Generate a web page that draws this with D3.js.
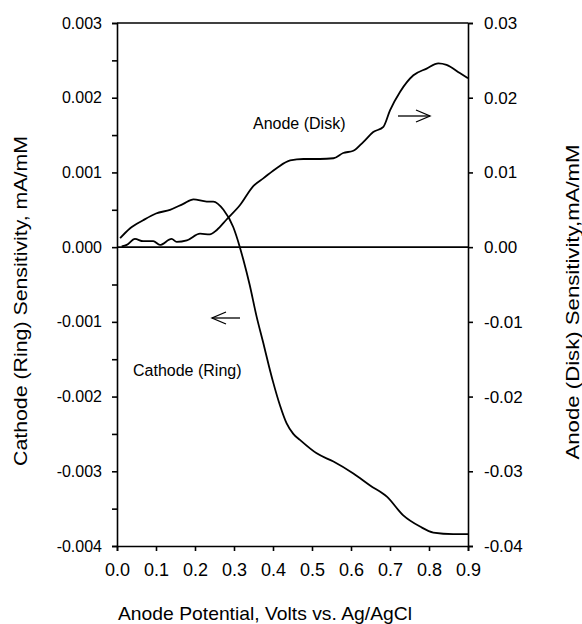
<!DOCTYPE html>
<html>
<head>
<meta charset="utf-8">
<script src="https://cdn.jsdelivr.net/npm/d3@7"></script>
<style>
  body { margin: 0; background: #fff; }
  text { font-family: "Liberation Sans", Arial, sans-serif; fill: #000; }
</style>
</head>
<body>
<svg width="582" height="624"></svg>
<script>
// cathode (ring) sensitivity, left axis, mA/mM
const ringV = [0.008, 0.033, 0.067, 0.10, 0.136, 0.17, 0.196, 0.23, 0.247, 0.273, 0.298, 0.315, 0.324, 0.34, 0.358, 0.375, 0.39, 0.40, 0.418, 0.435, 0.452, 0.469, 0.512, 0.555, 0.606, 0.649, 0.692, 0.734, 0.777, 0.811, 0.862, 0.9];
const ringS = [0.00012, 0.00025, 0.00036, 0.00045, 0.0005, 0.00058, 0.00064, 0.00061, 0.00061, 0.0005, 0.00027, 0.0, -0.00017, -0.0005, -0.00093, -0.00128, -0.0016, -0.0018, -0.00212, -0.00236, -0.0025, -0.00258, -0.00276, -0.00287, -0.00303, -0.00319, -0.00334, -0.00359, -0.00374, -0.00382, -0.00384, -0.00384];

// anode (disk) sensitivity, right axis, mA/mM
const diskV = [0.012, 0.025, 0.046, 0.067, 0.093, 0.11, 0.14, 0.153, 0.179, 0.213, 0.238, 0.256, 0.281, 0.315, 0.35, 0.375, 0.41, 0.444, 0.478, 0.52, 0.555, 0.58, 0.606, 0.632, 0.657, 0.683, 0.70, 0.726, 0.76, 0.794, 0.824, 0.845, 0.879, 0.9];
const diskS = [0.0001, 0.0003, 0.0011, 0.0008, 0.0008, 0.0003, 0.0011, 0.0007, 0.0009, 0.0018, 0.0017, 0.0023, 0.0037, 0.0056, 0.0082, 0.0092, 0.0106, 0.0116, 0.0118, 0.0118, 0.0119, 0.0126, 0.0129, 0.0141, 0.0154, 0.0161, 0.0183, 0.0208, 0.0230, 0.0239, 0.0246, 0.0244, 0.0233, 0.0226];

const xTicks = [0, 0.1, 0.2, 0.3, 0.4, 0.5, 0.6, 0.7, 0.8, 0.9];
const leftTicks = [-0.004, -0.003, -0.002, -0.001, 0, 0.001, 0.002, 0.003];
const leftMinor = [-0.0035, -0.0025, -0.0015, -0.0005, 0.0005, 0.0015, 0.0025];
const rightTicks = [-0.04, -0.03, -0.02, -0.01, 0, 0.01, 0.02, 0.03];

const svg = d3.select('svg');
const pLeft = 117, pRight = 468, pTop = 23, pBottom = 546;

const x = d3.scaleLinear().domain([0, 0.9]).range([pLeft, pRight]);
const yL = d3.scaleLinear().domain([-0.004, 0.003]).range([pBottom, pTop]);
const yR = d3.scaleLinear().domain([-0.04, 0.03]).range([pBottom, pTop]);

// plain hyphen for negatives, like the original
const fmt = p => d => d3.format(p)(d).replace('\u2212', '-');

// x axis
svg.append('g')
  .attr('transform', `translate(0,${pBottom})`)
  .call(d3.axisBottom(x).tickValues(xTicks).tickFormat(fmt('.1f')).tickSize(5).tickPadding(12))
  .call(g => g.selectAll('text').style('font-size', '18px'));

// left axis
svg.append('g')
  .attr('transform', `translate(${pLeft},0)`)
  .call(d3.axisLeft(yL).tickValues(leftMinor).tickFormat('').tickSize(5))
  .call(g => g.select('.domain').remove());
svg.append('g')
  .attr('transform', `translate(${pLeft},0)`)
  .call(d3.axisLeft(yL).tickValues(leftTicks).tickFormat(fmt('.3f')).tickSize(5).tickPadding(10))
  .call(g => g.selectAll('text').style('font-size', '16px'));

// right axis
svg.append('g')
  .attr('transform', `translate(${pRight},0)`)
  .call(d3.axisRight(yR).tickValues(rightTicks).tickFormat(fmt('.2f')).tickSize(5).tickPadding(11))
  .call(g => g.selectAll('text').style('font-size', '17px'));

svg.selectAll('.domain, .tick line').attr('stroke', '#000').attr('stroke-width', 1.6);

// top border and zero line
svg.append('line').attr('x1', pLeft).attr('x2', pRight).attr('y1', pTop).attr('y2', pTop)
  .attr('stroke', '#000').attr('stroke-width', 1.6);
svg.append('line').attr('x1', pLeft).attr('x2', pRight).attr('y1', yL(0)).attr('y2', yL(0))
  .attr('stroke', '#000').attr('stroke-width', 1.6);

// curves
const ringLine = d3.line().x(d => x(d[0])).y(d => yL(d[1])).curve(d3.curveMonotoneX);
const diskLine = d3.line().x(d => x(d[0])).y(d => yR(d[1])).curve(d3.curveMonotoneX);

svg.append('path').datum(d3.zip(ringV, ringS))
  .attr('d', ringLine).attr('fill', 'none').attr('stroke', '#000').attr('stroke-width', 1.8);
svg.append('path').datum(d3.zip(diskV, diskS))
  .attr('d', diskLine).attr('fill', 'none').attr('stroke', '#000').attr('stroke-width', 1.8);

// annotations
svg.append('text').attr('x', 253).attr('y', 129).style('font-size', '16px').text('Anode (Disk)');
svg.append('text').attr('x', 133).attr('y', 376).style('font-size', '16px').text('Cathode (Ring)');

function arrow(x1, x2, y, dir) {
  svg.append('line').attr('x1', x1).attr('x2', x2).attr('y1', y).attr('y2', y)
    .attr('stroke', '#000').attr('stroke-width', 1.3);
  const tip = dir > 0 ? x2 : x1;
  svg.append('path')
    .attr('d', `M${tip - dir * 14},${y - 6}L${tip},${y}L${tip - dir * 14},${y + 6}`)
    .attr('fill', 'none').attr('stroke', '#000').attr('stroke-width', 1.3);
}
arrow(398, 430, 116, 1);
arrow(212, 240, 318, -1);

// axis titles
svg.append('text')
  .attr('x', 265).attr('y', 620)
  .attr('text-anchor', 'middle').style('font-size', '19px')
  .attr('textLength', 294).attr('lengthAdjust', 'spacingAndGlyphs')
  .text('Anode Potential, Volts vs. Ag/AgCl');
svg.append('text')
  .attr('transform', `translate(27,301) rotate(-90)`)
  .attr('text-anchor', 'middle').style('font-size', '19px')
  .attr('textLength', 330).attr('lengthAdjust', 'spacingAndGlyphs')
  .text('Cathode (Ring) Sensitivity, mA/mM');
svg.append('text')
  .attr('transform', `translate(579,302) rotate(-90)`)
  .attr('text-anchor', 'middle').style('font-size', '19px')
  .attr('textLength', 315).attr('lengthAdjust', 'spacingAndGlyphs')
  .text('Anode (Disk) Sensitivity,mA/mM');
</script>
</body>
</html>
